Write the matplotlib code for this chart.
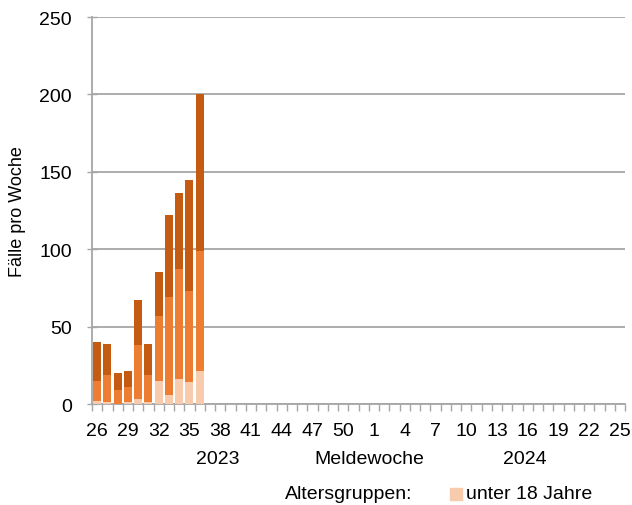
import matplotlib
matplotlib.use('Agg')
import matplotlib.pyplot as plt
import numpy as np

plt.rcParams['font.family'] = ['Liberation Sans', 'DejaVu Sans']

# Meldewochen: 26..52 (2023), 1..25 (2024)
weeks = list(range(26, 53)) + list(range(1, 26))
# Faelle pro Woche je Altersgruppe (nur Wochen 26-36 mit Daten)
unter18 = [2, 1, 0, 1, 3, 1, 15, 6, 16, 14, 21]
mittel = [13, 18, 9, 10, 35, 18, 42, 63, 71, 59, 78]
aelter = [25, 20, 11, 10, 29, 20, 28, 53, 49, 72, 101]

col_light = '#F8CBAD'
col_mid = '#ED7D31'
col_dark = '#C55A11'
grey = '#A6A6A6'

fig = plt.figure(figsize=(6.32, 5.06), dpi=100)
ax = fig.add_axes([0.1456, 0.1996, 0.8434, 0.7648])

n = len(unter18)
x = np.arange(n)
a = np.array(unter18)
b = np.array(mittel)
c = np.array(aelter)
ax.bar(x, a, width=0.8, color=col_light, zorder=3)
ax.bar(x, b, width=0.8, bottom=a, color=col_mid, zorder=3)
ax.bar(x, c, width=0.8, bottom=a + b, color=col_dark, zorder=3)

ax.set_xlim(-0.5, len(weeks) - 0.5)
ax.set_ylim(0, 250)
ax.set_yticks([0, 50, 100, 150, 200, 250])
ax.yaxis.grid(True, color=grey, linewidth=1.3, zorder=0)

idx = list(range(0, len(weeks), 3))
ax.set_xticks(idx)
ax.set_xticklabels([str(weeks[i]) for i in idx])
ax.set_xticks(np.arange(-0.5, len(weeks), 1), minor=True)
ax.tick_params(axis='x', which='major', length=0, pad=13, labelsize=14)
ax.tick_params(axis='x', which='minor', length=5, color=grey, width=1)
ax.tick_params(axis='y', length=7, direction='inout', color=grey, width=1,
               pad=11, labelsize=14)

for s in ['top', 'right']:
    ax.spines[s].set_visible(False)
for s in ['left', 'bottom']:
    ax.spines[s].set_color(grey)
    ax.spines[s].set_linewidth(1.3)

ax.set_ylabel('Fälle pro Woche', fontsize=13)
ax.yaxis.set_label_coords(-0.124, 0.5)

fig.text(218 / 632, 1 - 460 / 506, '2023', ha='center', va='center', fontsize=14)
fig.text(369 / 632, 1 - 460 / 506, 'Meldewoche', ha='center', va='center', fontsize=14)
fig.text(525 / 632, 1 - 460 / 506, '2024', ha='center', va='center', fontsize=14)

fig.text(285 / 632, 1 - 495 / 506, 'Altersgruppen:', ha='left', va='center', fontsize=14)
fig.patches.append(plt.Rectangle((450 / 632, 1 - 501 / 506), 12 / 632, 12 / 506,
                                 transform=fig.transFigure, color=col_light))
fig.text(466 / 632, 1 - 495 / 506, 'unter 18 Jahre', ha='left', va='center', fontsize=14)

fig.savefig('out.png', dpi=100)
